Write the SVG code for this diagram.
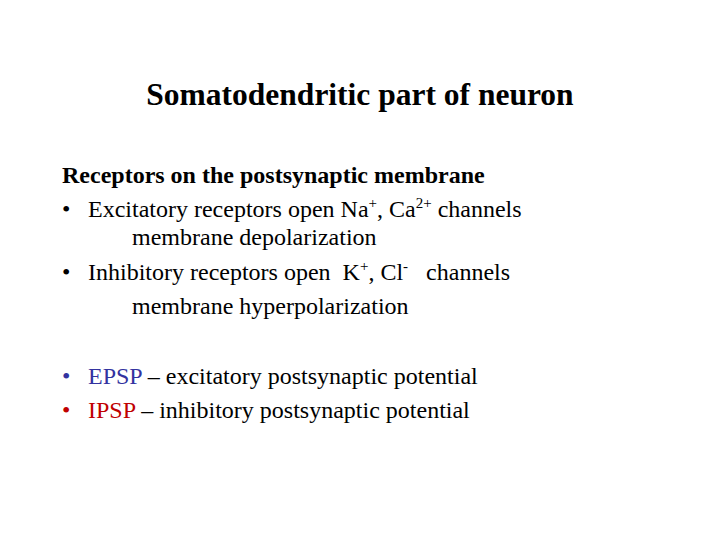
<svg xmlns="http://www.w3.org/2000/svg" width="720" height="540" viewBox="0 0 720 540">
<style>
text{font-family:"Liberation Serif","Times New Roman",serif;font-size:24px;fill:#000}
.t{font-size:31.5px;font-weight:bold}
.b{font-weight:bold}
.s{font-size:15px}
.blue{fill:#3333A0}
.red{fill:#C00000}
</style>
<rect width="720" height="540" fill="#fff"/>
<text class="t" x="360" y="105" text-anchor="middle">Somatodendritic part of neuron</text>
<text class="b" x="62" y="183">Receptors on the postsynaptic membrane</text>
<text x="62" y="217">•</text>
<text x="88" y="217">Excitatory receptors open Na<tspan class="s" dy="-9">+</tspan><tspan dy="9">, Ca</tspan><tspan class="s" dy="-9">2+</tspan><tspan dy="9"> channels</tspan></text>
<text x="132" y="245">membrane depolarization</text>
<text x="62" y="280">•</text>
<text x="88" y="280" xml:space="preserve">Inhibitory receptors open  K<tspan class="s" dy="-9">+</tspan><tspan dy="9">, Cl</tspan><tspan class="s" dy="-9">-</tspan><tspan dy="9">   channels</tspan></text>
<text x="132" y="314">membrane hyperpolarization</text>
<text class="blue" x="62" y="384">•</text>
<text x="88" y="384"><tspan class="blue">EPSP</tspan> – excitatory postsynaptic potential</text>
<text class="red" x="62" y="418">•</text>
<text x="88" y="418"><tspan class="red">IPSP</tspan> – inhibitory postsynaptic potential</text>
</svg>
